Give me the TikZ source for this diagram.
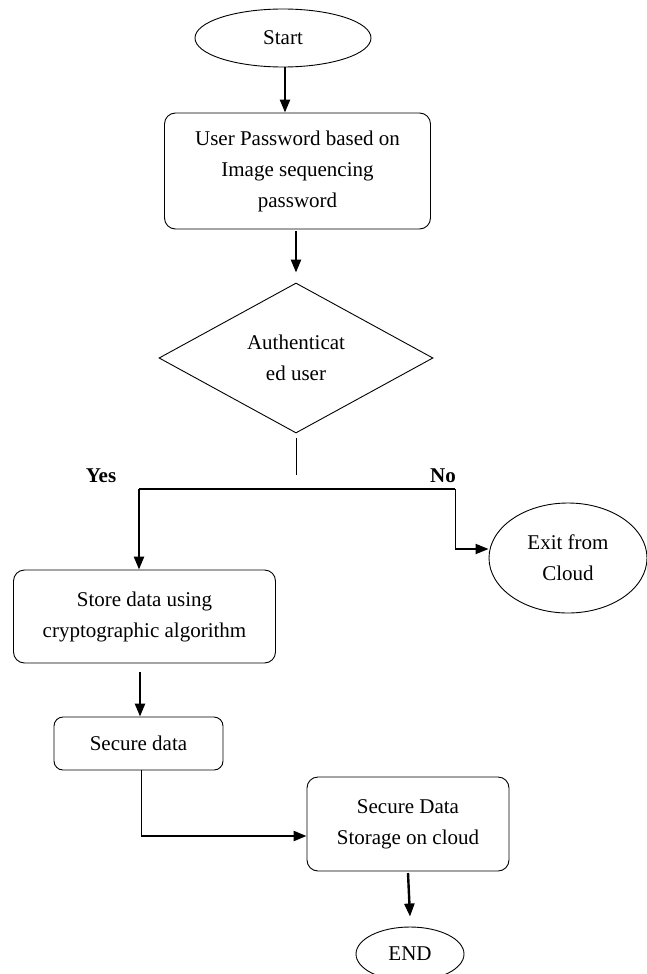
\documentclass[tikz,border=0pt]{standalone}
\usepackage{fontspec}
\setmainfont{Liberation Serif}
\usetikzlibrary{shapes.geometric,arrows.meta}
\begin{document}
\begin{tikzpicture}[x=1pt,y=-1pt,
  txt/.style={font=\fontsize{21}{31}\selectfont, align=center, text=black},
  procbox/.style={txt, draw=black, line width=0.9pt, rounded corners=11pt, inner sep=0pt},
  terminal/.style={txt, draw=black, line width=0.9pt, ellipse, inner sep=0pt},
  decision/.style={txt, draw=black, line width=0.9pt, diamond, inner sep=0pt},
  thin/.style={draw=black, line width=0.9pt},
  mid/.style={draw=black, line width=1.4pt},
  arr/.style={draw=black, line width=2.4pt, -{Triangle[length=13pt,width=10pt]}},
  lbl/.style={font=\fontsize{21}{25}\selectfont\bfseries, text=black, inner sep=0pt}
]
\useasboundingbox (0,0) rectangle (646,974);
\fill[white] (0,0) rectangle (646,974);

% nodes
\node[terminal, minimum width=176pt, minimum height=58pt] (start) at (283,38) {Start};
\node[procbox, minimum width=266pt, minimum height=116pt] (pw) at (297.5,171) {User Password based on\\Image sequencing\\password};
\node[decision, minimum width=274pt, minimum height=150pt] (dia) at (296,358) {Authenticat\\ed user};
\node[procbox, minimum width=262pt, minimum height=93pt] (store) at (144.5,616.5) {Store data using\\cryptographic algorithm};
\node[terminal, minimum width=158pt, minimum height=110pt] (exit) at (568,558) {Exit from\\Cloud};
\node[procbox, minimum width=169pt, minimum height=53pt, rounded corners=9pt] (sd) at (138.5,743.5) {Secure data};
\node[procbox, minimum width=202pt, minimum height=94pt] (sds) at (408,824) {Secure Data\\Storage on cloud};
\node[terminal, minimum width=108pt, minimum height=54pt] (end) at (410,954) {END};

\node[lbl] (yes) at (101,476) {Yes};
\node[lbl] (no) at (443,476) {No};

% coordinates
\coordinate (dgap) at (296,475);
\coordinate (yesc) at (139,489);
\coordinate (noc) at (455,489);
\coordinate (noturn) at (455,549);
\coordinate (a1) at (285,38);
\coordinate (a2) at (296,231);
\coordinate (a3) at (140,672);
\coordinate (sdturn) at (141,836);
\coordinate (a4) at (408,873);

% connectors
\draw[arr] (a1 |- start.south) -- (a1 |- pw.north);
\draw[arr] (a2) -- ([yshift=10pt]dia.north);
\draw[thin] ([yshift=-5pt]dia.south) -- (dgap);
\draw[mid] (yesc) -- (noc);
\draw[arr] (yesc) -- (yesc |- store.north);
\draw[thin] (noc) -- (noturn);
\draw[arr, line width=2pt] (noturn) -- (noturn -| exit.west);
\draw[arr] (a3) -- (a3 |- sd.north);
\draw[thin] (sdturn |- sd.south) -- (sdturn);
\draw[arr] (sdturn) -- (sdturn -| sds.west);
\draw[arr] (a4) -- ([yshift=10pt]end.north);
\end{tikzpicture}
\end{document}
